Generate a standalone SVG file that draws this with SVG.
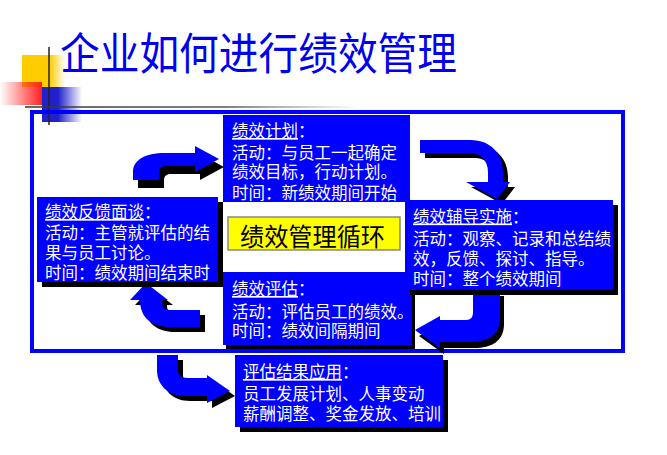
<svg xmlns="http://www.w3.org/2000/svg" width="667" height="455" viewBox="0 0 667 455">
<defs>
<style>
.t{font-family:"Noto Sans CJK SC","Noto Sans",sans-serif;font-size:16.5px;fill:#fff}
.u{text-decoration:underline}
.box{fill:#0000FF}
.sh{fill:#000}
.ar{fill:#0000FF}
</style>
<linearGradient id="gy" x1="0" x2="1" y1="0" y2="0"><stop offset="0" stop-color="#FFCC00"/><stop offset="0.65" stop-color="#FFCC00"/><stop offset="1" stop-color="#FFCC00" stop-opacity="0"/></linearGradient>
<linearGradient id="gr" x1="0" x2="1" y1="0" y2="0"><stop offset="0" stop-color="#FF2020" stop-opacity="0"/><stop offset="1" stop-color="#FF2020"/></linearGradient>
<linearGradient id="gb" x1="0" x2="1" y1="0" y2="0"><stop offset="0" stop-color="#2020CC"/><stop offset="0.4" stop-color="#2020CC"/><stop offset="1" stop-color="#2020CC" stop-opacity="0"/></linearGradient>
<linearGradient id="gl" gradientUnits="userSpaceOnUse" x1="25" x2="360" y1="0" y2="0"><stop offset="0" stop-color="#333"/><stop offset="0.6" stop-color="#555"/><stop offset="1" stop-color="#555" stop-opacity="0"/></linearGradient>
<path id="pA" d="M133,180 L133,172 C133,160 145,153 165,153 L195,153 L195,146 L219,159 L195,172 L195,166 L166,166 C161,166 159,168 159,173 L159,180 Z"/>
<path id="pB" d="M420,140 L470,140 C492,140 503,155 503,172 L503,182 L510,182 L497,199 L466,182 L488,182 L488,172 C488,160 480,153 470,153 L420,153 Z"/>
<path id="pC" d="M500,290 L500,318 C500,335 488,342 470,342 L440,342 L440,348 L415,330 L440,316 L440,320 L466,320 C471,320 473,317 473,312 L473,290 Z"/>
<path id="pD" d="M200,310 L170,310 C165,310 162,307 162,300 L168,300 L146,283 L130,300 L140,300 C140,318 152,327 170,327 L200,327 Z"/>
<path id="pE" d="M157,355 L178,355 L178,370 C178,375 181,378 188,378 L207,378 L207,375 L230,391 L207,403 L207,396 L185,396 C168,396 157,385 157,370 Z"/>
</defs>
<rect width="667" height="455" fill="#fff"/>

<g id="decor">
<rect x="22" y="55" width="43" height="32" fill="url(#gy)"/>
<rect x="0" y="82" width="42" height="23" fill="url(#gr)"/>
<rect x="42" y="87" width="40" height="35" fill="url(#gb)"/>
<line x1="49" y1="47" x2="49" y2="125" stroke="#222" stroke-width="1.5"/>
<line x1="25" y1="107" x2="360" y2="107" stroke="url(#gl)" stroke-width="1.5"/>
</g>

<g id="title">
<text x="60" y="70" font-family="'Noto Sans CJK SC',sans-serif" font-size="44" fill="#0000EE" textLength="397" lengthAdjust="spacingAndGlyphs">企业如何进行绩效管理</text>
</g>

<g id="frame">
<rect x="32" y="112" width="591" height="239" fill="none" stroke="#0000FF" stroke-width="4"/>
</g>

<g id="connectors">
<use href="#pA" class="sh" transform="translate(5,8)"/>
<use href="#pA" class="ar"/>
<use href="#pB" class="sh" transform="translate(5,5)"/>
<use href="#pB" class="ar"/>
<use href="#pC" class="sh" transform="translate(4,6)"/>
<use href="#pC" class="ar"/>
<use href="#pD" class="sh" transform="translate(5,5)"/>
<use href="#pD" class="ar"/>
<use href="#pE" class="sh" transform="translate(5,5)"/>
<use href="#pE" class="ar"/>
</g>

<g id="plan">
<rect class="box" x="223" y="115" width="187" height="87"/>
<text class="t"><tspan x="232" y="137"><tspan class="u">绩效计划</tspan>：</tspan><tspan x="232" y="158.5">活动：与员工一起确定</tspan><tspan x="232" y="178">绩效目标，行动计划。</tspan><tspan x="232" y="198.5">时间：新绩效期间开始</tspan></text>
</g>

<g id="feedback">
<rect class="sh" x="42" y="202" width="181" height="85"/>
<rect class="box" x="37" y="197" width="181" height="85"/>
<text class="t"><tspan x="45" y="218"><tspan class="u">绩效反馈面谈</tspan>：</tspan><tspan x="45" y="238.5">活动：主管就评估的结</tspan><tspan x="45" y="258.5">果与员工讨论。</tspan><tspan x="45" y="278.5">时间：绩效期间结束时</tspan></text>
</g>

<g id="center">
<rect x="228" y="217" width="172" height="33" fill="#FFFF00" stroke="#888" stroke-width="1.5"/>
<text x="240" y="246" font-family="'Noto Sans CJK SC',sans-serif" font-size="25" fill="#000" textLength="145" lengthAdjust="spacingAndGlyphs">绩效管理循环</text>
</g>

<g id="evaluate">
<rect class="sh" x="226" y="276" width="189" height="73"/>
<rect class="box" x="223" y="272" width="189" height="73"/>
<text class="t"><tspan x="232" y="295"><tspan class="u">绩效评估</tspan>：</tspan><tspan x="232" y="318">活动：评估员工的绩效。</tspan><tspan x="232" y="337">时间：绩效间隔期间</tspan></text>
</g>

<g id="coaching">
<rect class="sh" x="410" y="205" width="208" height="90"/>
<rect class="box" x="405" y="200" width="208" height="90"/>
<text class="t"><tspan x="413" y="222.5"><tspan class="u">绩效辅导实施</tspan>：</tspan><tspan x="413" y="245">活动：观察、记录和总结绩</tspan><tspan x="413" y="265">效，反馈、探讨、指导。</tspan><tspan x="413" y="285">时间：整个绩效期间</tspan></text>
</g>

<g id="apply">
<rect class="sh" x="240" y="360" width="208" height="72"/>
<rect class="box" x="235" y="355" width="208" height="72"/>
<text class="t"><tspan x="243" y="378"><tspan class="u">评估结果应用</tspan>：</tspan><tspan x="243" y="400">员工发展计划、人事变动</tspan><tspan x="243" y="420">薪酬调整、奖金发放、培训</tspan></text>
</g>
</svg>
